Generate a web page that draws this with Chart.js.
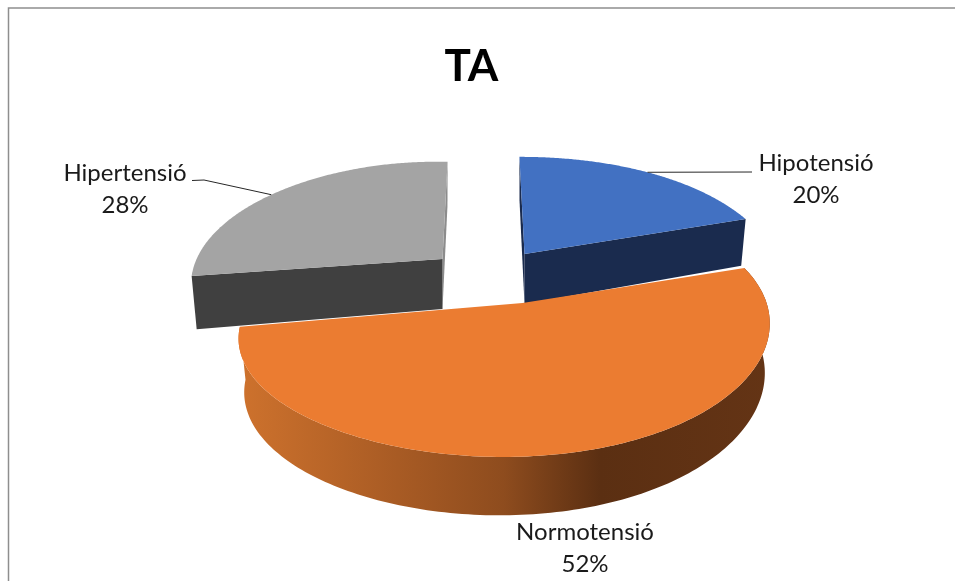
<!DOCTYPE html>
<html>
<head>
<meta charset="utf-8">
<style>html,body{margin:0;padding:0;background:#fff}canvas{display:block}</style>
<script src="https://cdn.jsdelivr.net/npm/chart.js@4/dist/chart.umd.min.js"></script>
</head>
<body>
<canvas id="c" width="955" height="581"></canvas>
<script>
const categories = ['Hipotensió', 'Normotensió', 'Hipertensió'];
const shares = [20, 52, 28];
const chartTitle = 'TA';
const topColors = ['#4271C2', '#EB7C31', '#A4A4A4'];
const wallColors = ['#1A2B4E', null, '#404040'];
const backWallColors = ['#1A2B4E', null, '#8C8C8C'];

// Projection of each slice's unit disc onto the page, in multiples of the pie radius.
const sliceViews = [
  { shift: [53, -88], a: 1.10,  b: -0.026, c: -0.002, d: -0.498 },
  { shift: [51, -39], a: 1.076, b: 0.059,  c: -0.002, d: -0.498 },
  { shift: [-29, -83], a: 0.96, b: 0.026,  c: 0.025,  d: -0.498 }
];
const perspective = { g: 0.227, h: 0.055 };
const depth = 50;
const drawOrder = [0, 2, 1];

// Label text blocks and their leader elbows, page units; `along` places the
// leader's end on the slice rim as a fraction of its sweep.
const labelBlocks = [
  { x: 816, y: 163, elbow: [752, 172], along: 0.5 },
  { x: 585, y: 532, elbow: null },
  { x: 125, y: 173, elbow: [204, 180], start: [192, 180.5], along: 0.45 }
];

function projector(el, view) {
  const R = el.outerRadius;
  const ox = el.x + view.shift[0], oy = el.y + view.shift[1];
  const top = (u, v) => {
    const wy = 1 + perspective.g * v;
    const w = wy + perspective.h * u;
    return { x: ox + R * (view.a * u + view.b * v) / w,
             y: oy + R * (view.c * u + view.d * v) / wy, w };
  };
  const low = (u, v) => {
    const p = top(u, v);
    return { x: ox + (p.x - ox) * 0.98, y: p.y + depth / Math.pow(p.w, 0.6) };
  };
  return { top, low, at: a => [Math.cos(a), -Math.sin(a)] };
}

function poly(ctx, pts, fill) {
  ctx.beginPath();
  pts.forEach((p, i) => i ? ctx.lineTo(p.x, p.y) : ctx.moveTo(p.x, p.y));
  ctx.closePath();
  ctx.fillStyle = fill;
  ctx.fill();
}

const pie3d = {
  id: 'pie3d',
  beforeDraw(chart) {
    const ctx = chart.ctx;
    ctx.save();
    ctx.strokeStyle = '#8E8E8E';
    ctx.lineWidth = 1.5;
    ctx.beginPath();
    ctx.moveTo(8.5, chart.height);
    ctx.lineTo(8.5, 8);
    ctx.lineTo(chart.width, 8);
    ctx.stroke();
    ctx.restore();
  },
  beforeDatasetsDraw(chart) {
    const ctx = chart.ctx;
    const arcs = chart.getDatasetMeta(0).data;
    drawOrder.forEach(i => {
      const el = arcs[i];
      const pr = projector(el, sliceViews[i]);
      const steps = 180;
      const rimTop = [], rimLow = [];
      for (let s = 0; s <= steps; s++) {
        const ang = el.startAngle + (el.endAngle - el.startAngle) * s / steps;
        const [u, v] = pr.at(ang);
        rimTop.push(pr.top(u, v));
        rimLow.push(pr.low(u, v));
      }
      const hubTop = pr.top(0, 0), hubLow = pr.low(0, 0);
      if (wallColors[i]) {
        // straight cut faces of the pulled-out slices
        poly(ctx, [hubTop, rimTop[steps], rimLow[steps], hubLow], i === 0 ? wallColors[i] : backWallColors[i]);
        poly(ctx, [hubTop, rimTop[0], rimLow[0], hubLow], i === 0 ? backWallColors[i] : wallColors[i]);
      } else {
        // curved outer wall with its lit-to-dark sweep
        const xs = rimTop.map(p => p.x);
        const x0 = Math.min(...xs), x1 = Math.max(...xs);
        const grad = ctx.createLinearGradient(x0, 0, x1, 0);
        grad.addColorStop(0, '#CE722D');
        grad.addColorStop(0.3, '#A85B24');
        grad.addColorStop(0.5, '#8E4C1E');
        grad.addColorStop(0.68, '#5B2F12');
        grad.addColorStop(1, '#643415');
        poly(ctx, rimTop.concat(rimLow.slice().reverse()), grad);
      }
      poly(ctx, [hubTop].concat(rimTop), el.options.backgroundColor);
    });
    return false;
  },
  afterDraw(chart) {
    const ctx = chart.ctx;
    const arcs = chart.getDatasetMeta(0).data;
    const total = shares.reduce((s, v) => s + v, 0);
    ctx.save();
    ctx.font = '24px Lato';
    ctx.fillStyle = '#1A1A1A';
    ctx.textAlign = 'center';
    ctx.textBaseline = 'middle';
    labelBlocks.forEach((b, i) => {
      ctx.fillText(categories[i], b.x, b.y);
      ctx.fillText(Math.round(shares[i] / total * 100) + '%', b.x, b.y + 32);
      if (b.elbow) {
        const el = arcs[i];
        const pr = projector(el, sliceViews[i]);
        const [u, v] = pr.at(el.startAngle + (el.endAngle - el.startAngle) * b.along);
        const end = pr.top(u, v);
        ctx.strokeStyle = '#262626';
        ctx.lineWidth = 1;
        ctx.beginPath();
        if (b.start) { ctx.moveTo(b.start[0], b.start[1]); ctx.lineTo(b.elbow[0], b.elbow[1]); }
        else ctx.moveTo(b.elbow[0], b.elbow[1]);
        ctx.lineTo(end.x, end.y);
        ctx.stroke();
      }
    });
    ctx.restore();
  }
};

new Chart(document.getElementById('c'), {
  type: 'pie',
  data: {
    labels: categories,
    datasets: [{ data: shares, backgroundColor: topColors, borderWidth: 0 }]
  },
  plugins: [pie3d],
  options: {
    responsive: false,
    animation: false,
    layout: { padding: { right: 12 } },
    plugins: {
      legend: { display: false },
      tooltip: { enabled: false },
      title: {
        display: true,
        text: chartTitle,
        color: '#000000',
        font: { family: 'Lato', size: 44, weight: 'bold' },
        padding: { top: 40, bottom: 10 }
      }
    }
  }
});
</script>
</body>
</html>
